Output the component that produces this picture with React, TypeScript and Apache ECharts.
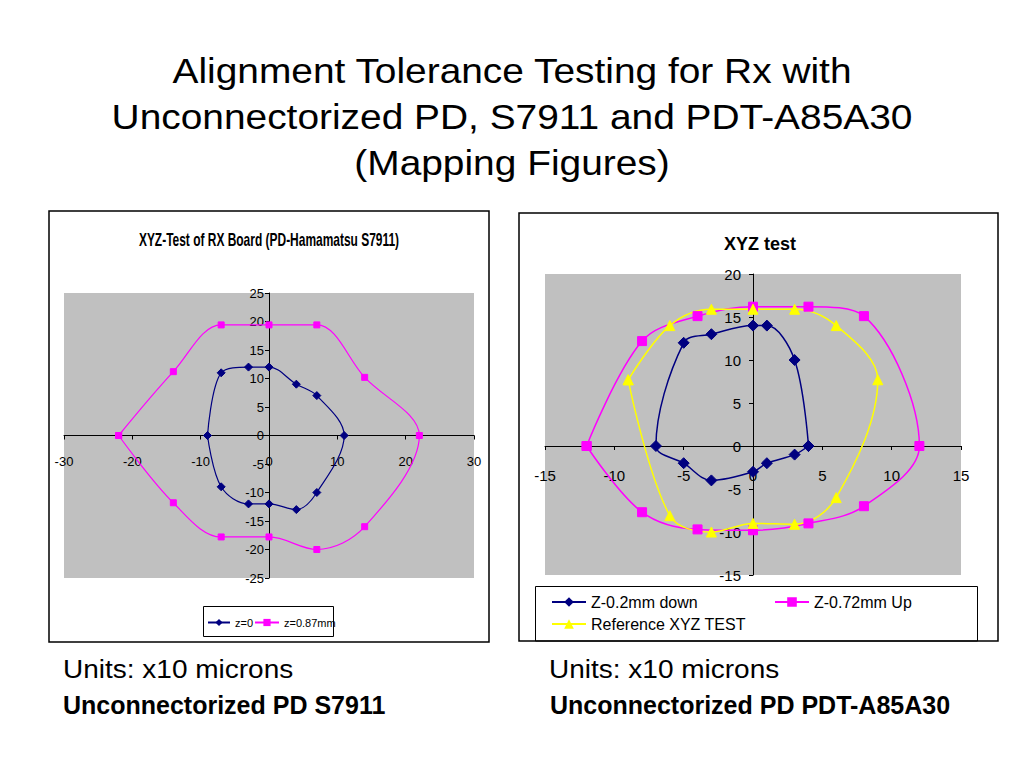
import React, { useEffect, useRef } from "react";
import * as echarts from "echarts";

// ---------- Data ----------
const slideTitle = [
  "Alignment Tolerance Testing for Rx with",
  "Unconnectorized PD, S7911 and PDT-A85A30",
  "(Mapping Figures)",
];
const leftTitle = "XYZ-Test of RX Board (PD-Hamamatsu S7911)";
const rightTitle = "XYZ test";
const unitsText = "Units: x10 microns";
const leftCaption = "Unconnectorized PD S7911";
const rightCaption = "Unconnectorized PD PDT-A85A30";

const leftNames = ["z=0", "z=0.87mm"];
const leftZ0: number[][] = [
  [-9, 0], [-7, 11], [-3, 12], [0, 12], [4, 9], [7, 7], [11, 0],
  [7, -10], [4, -13], [0, -12], [-3, -12], [-7, -9], [-9, 0],
];
const leftZ087: number[][] = [
  [-22, 0], [-14, 11.2], [-7, 19.4], [0, 19.4], [7, 19.4], [14, 10.2], [22, 0],
  [14, -16], [7, -20], [0, -17.8], [-7, -17.8], [-14, -11.8], [-22, 0],
];
const leftXTicks = [-30, -20, -10, 0, 10, 20, 30];
const leftYTicks = [-25, -20, -15, -10, -5, 0, 5, 10, 15, 20, 25];

const rightNames = ["Z-0.2mm down", "Z-0.72mm Up", "Reference XYZ TEST"];
const rightDown: number[][] = [
  [4, 0], [3, -1], [1, -2], [0, -3], [-3, -4], [-5, -2], [-7, 0],
  [-5, 12], [-3, 13], [0, 14], [1, 14], [3, 10], [4, 0],
];
const rightUp: number[][] = [
  [-12, 0], [-8, 12.2], [-4, 15.1], [0, 16.2], [4, 16.2], [8, 15.1], [12, 0],
  [8, -7], [4, -9], [0, -9.8], [-4, -9.7], [-8, -7.7], [-12, 0],
];
const rightRef: number[][] = [
  [-9, 7.7], [-6, 14], [-3, 15.9], [0, 15.9], [3, 15.9], [6, 14], [9, 7.7],
  [6, -6], [3, -9.1], [0, -9], [-3, -10], [-6, -8.1], [-9, 7.7],
];
const rightXTicks = [-15, -10, -5, 0, 5, 10, 15];
const rightYTicks = [-15, -10, -5, 0, 5, 10, 15, 20];

// ---------- Styles ----------
const FONT = "'Liberation Sans', Arial, Helvetica, sans-serif";
const NAVY = "#000080";
const MAGENTA = "#ff00ff";
const YELLOW = "#ffff00";
const GRAY = "#c0c0c0";

const leftGrid = { left: 64, top: 293, width: 410, height: 285 };
const rightGrid = { left: 545, top: 274, width: 416, height: 301 };

const step = (a: number[]) => a[1] - a[0];
const zeroFrac = (a: number[]) => (0 - a[0]) / (a[a.length - 1] - a[0]);

function makeAxis(grid: number, ticks: number[], offset: number, size: number, margin: number) {
  return {
    gridIndex: grid,
    type: "value",
    min: ticks[0],
    max: ticks[ticks.length - 1],
    interval: step(ticks),
    offset,
    axisLine: { show: true, onZero: false, lineStyle: { color: "#000", width: 1 } },
    axisTick: { show: true, inside: false, length: 4, lineStyle: { color: "#000", width: 1 } },
    axisLabel: { color: "#000", fontFamily: FONT, fontSize: size, margin },
    splitLine: { show: false },
  };
}

function lineSeries(name: string, data: number[][], color: string, symbol: string, symbolSize: number, width: number, axis: number) {
  return {
    name,
    type: "line",
    xAxisIndex: axis,
    yAxisIndex: axis,
    data,
    smooth: 0.35,
    symbol,
    symbolSize,
    showAllSymbol: true,
    itemStyle: { color, borderColor: color },
    lineStyle: { color, width },
    emphasis: { disabled: true },
  };
}

function legendAt(name: string, left: number, top: number, size: number, iw: number, ih: number) {
  return {
    data: [name],
    left,
    top,
    padding: 0,
    itemWidth: iw,
    itemHeight: ih,
    selectedMode: false,
    textStyle: { color: "#000", fontFamily: FONT, fontSize: size },
  };
}

function txt(text: string, x: number, y: number, size: number, bold: boolean, align: string, scaleX = 1) {
  return {
    type: "text",
    x,
    y,
    scaleX,
    z: 20,
    style: { text, fontFamily: FONT, fontSize: size, fontWeight: bold ? "bold" : "normal", fill: "#000", align, verticalAlign: "middle" },
  };
}

export default function App() {
  const ref = useRef<HTMLDivElement>(null);
  useEffect(() => {
    if (!ref.current) return;
    const chart = echarts.init(ref.current, undefined, { renderer: "svg" });
    const graphics: any[] = [];
    slideTitle.forEach((t, i) => graphics.push(txt(t, 512, 71 + i * 46, 36, false, "center", 1.08)));
    graphics.push(
      { type: "rect", shape: { x: 49, y: 211, width: 440, height: 431 }, style: { fill: "none", stroke: "#000", lineWidth: 1.5 }, z: 10 },
      { type: "rect", shape: { x: 519, y: 213, width: 479, height: 428 }, style: { fill: "none", stroke: "#000", lineWidth: 1.5 }, z: 10 },
      { type: "rect", shape: { x: 203.5, y: 606.5, width: 130, height: 30 }, style: { fill: "#fff", stroke: "#000", lineWidth: 1 }, z: 1 },
      { type: "rect", shape: { x: 535.5, y: 586.5, width: 442, height: 54.5 }, style: { fill: "#fff", stroke: "#000", lineWidth: 1 }, z: 1 },
      txt(leftTitle, 269, 240, 18, true, "center", 0.665),
      txt(rightTitle, 760, 244, 18, true, "center"),
      txt(unitsText, 63, 670, 25, false, "left", 1.12),
      txt(unitsText, 549, 670, 25, false, "left", 1.12),
      txt(leftCaption, 63, 705, 25, true, "left"),
      txt(rightCaption, 550, 705, 25, true, "left"),
    );
    const option: any = {
      animation: false,
      backgroundColor: "#fff",
      graphic: graphics,
      grid: [
        { ...leftGrid, show: true, backgroundColor: GRAY, borderWidth: 0 },
        { ...rightGrid, show: true, backgroundColor: GRAY, borderWidth: 0 },
      ],
      xAxis: [
        makeAxis(0, leftXTicks, -leftGrid.height * zeroFrac(leftYTicks), 13, 19),
        makeAxis(1, rightXTicks, -rightGrid.height * zeroFrac(rightYTicks), 15, 22),
      ],
      yAxis: [
        makeAxis(0, leftYTicks, -leftGrid.width * zeroFrac(leftXTicks), 13, 5),
        makeAxis(1, rightYTicks, -rightGrid.width * zeroFrac(rightXTicks), 15, 12),
      ],
      legend: [
        legendAt(leftNames[0], 207, 617, 11, 22, 9),
        legendAt(leftNames[1], 254, 617, 11, 24, 9),
        legendAt(rightNames[0], 551, 594, 16, 34, 12),
        legendAt(rightNames[1], 774, 594, 16, 34, 12),
        legendAt(rightNames[2], 551, 616, 16, 34, 12),
      ],
      series: [
        lineSeries(leftNames[0], leftZ0, NAVY, "diamond", 8, 1.2, 0),
        lineSeries(leftNames[1], leftZ087, MAGENTA, "rect", 6, 1.2, 0),
        lineSeries(rightNames[0], rightDown, NAVY, "diamond", 11, 1.5, 1),
        lineSeries(rightNames[1], rightUp, MAGENTA, "rect", 9, 1.5, 1),
        lineSeries(rightNames[2], rightRef, YELLOW, "triangle", 10, 1.5, 1),
      ],
    };
    chart.setOption(option);
    return () => chart.dispose();
  }, []);
  return <div ref={ref} style={{ position: "absolute", left: 0, top: 0, width: 1024, height: 768 }} />;
}
